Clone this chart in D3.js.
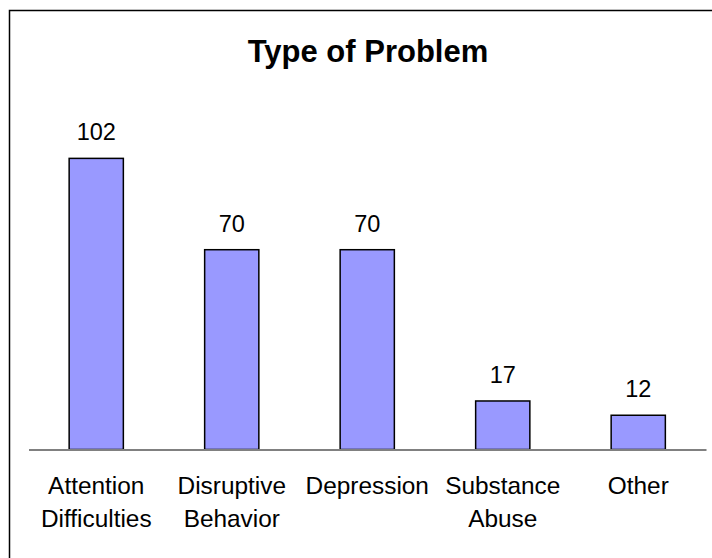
<!DOCTYPE html>
<html>
<head>
<meta charset="utf-8">
<script src="https://cdn.jsdelivr.net/npm/d3@7"></script>
<style>
  body { margin: 0; background: #fff; }
  svg { display: block; font-family: "Liberation Sans", Arial, sans-serif; }
</style>
</head>
<body>
<div id="chart"></div>
<script>
// Data
const categories = ["Attention Difficulties", "Disruptive Behavior", "Depression", "Substance Abuse", "Other"];
const labelLines = [["Attention", "Difficulties"], ["Disruptive", "Behavior"], ["Depression"], ["Substance", "Abuse"], ["Other"]];
const counts = [102, 70, 70, 17, 12];
const yMax = 120;

let width = 712, height = 558;

let svg = d3.select("#chart")
    .append("svg")
    .attr("width", width)
    .attr("height", height);

// outer frame (only top and left visible, rest cropped)
svg.append("rect")
    .attr("x", 9.5)
    .attr("y", 10.5)
    .attr("width", 720)
    .attr("height", 570)
    .attr("fill", "none")
    .attr("stroke", "#000")
    .attr("stroke-width", 1.5);

// Scales
let xScale = d3.scaleBand()
    .domain(categories)
    .range([28.5, 706])
    .paddingInner(0.6)
    .paddingOuter(0.3);

let yScale = d3.scaleLinear()
    .domain([0, yMax])
    .range([449.5, 107]);

// Title
svg.append("text")
    .attr("x", 368)
    .attr("y", 61.5)
    .attr("text-anchor", "middle")
    .style("font-size", "31px")
    .style("font-weight", "bold")
    .text("Type of Problem");

// Bars
svg.selectAll(".bar")
    .data(counts)
    .enter().append("rect")
    .attr("class", "bar")
    .attr("x", (d, i) => xScale(categories[i]))
    .attr("y", d => yScale(d))
    .attr("width", xScale.bandwidth())
    .attr("height", d => yScale(0) - yScale(d))
    .attr("fill", "#9999FF")
    .attr("stroke", "#000")
    .attr("stroke-width", 1.5);

// Value labels
svg.selectAll(".val")
    .data(counts)
    .enter().append("text")
    .attr("class", "val")
    .attr("x", (d, i) => xScale(categories[i]) + xScale.bandwidth() / 2)
    .attr("y", d => yScale(d) - 18)
    .attr("text-anchor", "middle")
    .style("font-size", "23.5px")
    .text(d => d);

// X axis (baseline)
let xAxis = svg.append("g")
    .attr("transform", `translate(0,${yScale(0)})`)
    .call(d3.axisBottom(xScale).tickSize(0).tickFormat(""));

xAxis.select(".domain")
    .attr("stroke", "#808080")
    .attr("stroke-width", 2);

// Category labels (multi-line)
xAxis.selectAll(".tick text").remove();
xAxis.selectAll(".tick").each(function(d, i) {
    let t = d3.select(this).append("text")
        .attr("fill", "#000")
        .attr("text-anchor", "middle")
        .style("font-size", "24.4px")
        .style("font-family", "'Liberation Sans', Arial, sans-serif");
    labelLines[i].forEach(function(line, j) {
        t.append("tspan")
            .attr("x", 0)
            .attr("y", 44.5 + j * 32.5)
            .text(line);
    });
});
</script>
</body>
</html>
